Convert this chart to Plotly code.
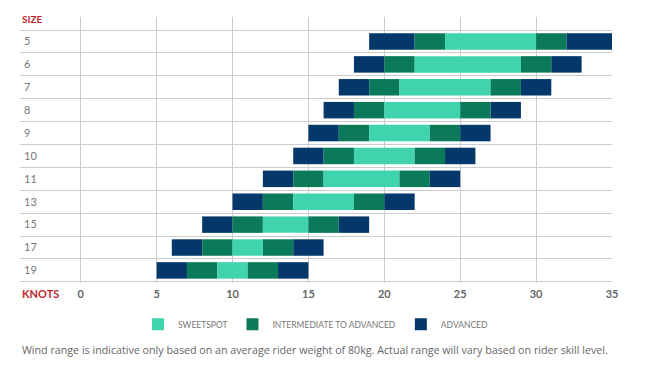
import plotly.graph_objects as go

sizes = ["5", "6", "7", "8", "9", "10", "11", "13", "15", "17", "19"]
adv_low_start = [19, 18, 17, 16, 15, 14, 12, 10, 8, 6, 5]
int_low_start = [22, 20, 19, 18, 17, 16, 14, 12, 10, 8, 7]
sweet_start = [24, 22, 21, 20, 19, 18, 16, 14, 12, 10, 9]
sweet_end = [30, 29, 27, 25, 23, 22, 21, 18, 15, 12, 11]
int_high_end = [32, 31, 29, 27, 25, 24, 23, 20, 17, 14, 13]
adv_high_end = [35, 33, 31, 29, 27, 26, 25, 22, 19, 16, 15]
x_ticks = [0, 5, 10, 15, 20, 25, 30, 35]

C_SWEET = "#3fd4ae"
C_INT = "#0a7a5b"
C_ADV = "#05386a"

rows = list(range(len(sizes)))

segments = [
    ("ADVANCED", C_ADV, adv_low_start, int_low_start, False, 3),
    ("INTERMEDIATE TO ADVANCED", C_INT, int_low_start, sweet_start, False, 2),
    ("SWEETSPOT", C_SWEET, sweet_start, sweet_end, True, 1),
    ("INTERMEDIATE TO ADVANCED", C_INT, sweet_end, int_high_end, True, 2),
    ("ADVANCED", C_ADV, int_high_end, adv_high_end, True, 3),
]

fig = go.Figure()
for name, color, s, e, show, rank in segments:
    fig.add_trace(go.Bar(
        y=rows,
        x=[b - a for a, b in zip(s, e)],
        base=s,
        orientation="h",
        name=name,
        legendgroup=name,
        showlegend=show,
        legendrank=rank,
        marker=dict(color=color, line=dict(width=0)),
        width=0.72,
    ))

FONT = "Lato"
fig.update_layout(
    width=658, height=378,
    margin=dict(l=12, r=54, t=9, b=103),
    plot_bgcolor="white", paper_bgcolor="white",
    barmode="overlay",
    font=dict(family=FONT, color="#666"),
    xaxis=dict(
        range=[-4, 35], tickvals=x_ticks, showgrid=True, gridcolor="#cccccc",
        gridwidth=1, zeroline=False, showline=False, ticks="",
        tickfont=dict(size=11, color="#666", family=FONT, weight="bold"),
        ticklabelstandoff=3,
        layer="above traces",
    ),
    yaxis=dict(
        range=[10.55, -1.07], tickvals=rows, ticktext=sizes, showgrid=False,
        zeroline=False, showline=False, ticks="",
        ticklabelposition="inside", ticklabelstandoff=1,
        tickfont=dict(size=11, color="#777", family=FONT),
        minor=dict(tickvals=[i - 0.5 for i in range(len(sizes) + 1)],
                   showgrid=True, gridcolor="#cccccc", gridwidth=1, ticks=""),
    ),
    legend=dict(orientation="h", x=0.5, xanchor="center", y=-0.155,
                yanchor="middle", font=dict(size=8.5, color="#777", family=FONT),
                itemwidth=30, traceorder="normal"),
    annotations=[
        dict(text="<b>SIZE</b>", x=0, y=0.992, xref="paper", yref="paper",
             xanchor="left", yanchor="middle", showarrow=False,
             font=dict(size=10, color="#c0272d", family=FONT)),
        dict(text="<b>KNOTS</b>", x=0, y=-0.038, xref="paper", yref="paper",
             xanchor="left", yanchor="middle", showarrow=False,
             font=dict(size=11, color="#c0272d", family=FONT)),
        dict(text="Wind range is indicative only based on an average rider weight of 80kg. "
                  "Actual range will vary based on rider skill level.",
             x=0, y=-0.252, xref="paper", yref="paper", xanchor="left",
             yanchor="middle", showarrow=False,
             font=dict(size=10.7, color="#666", family="Open Sans")),
    ],
)

fig.write_html("out.html")
